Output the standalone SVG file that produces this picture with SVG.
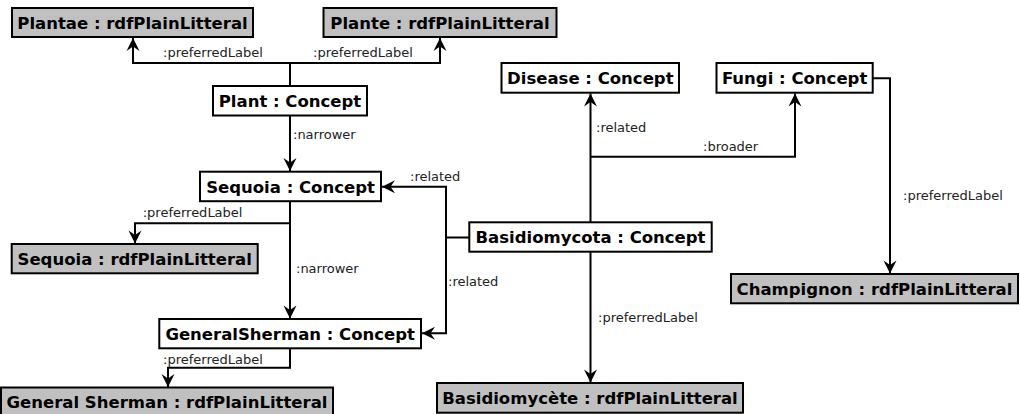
<svg xmlns="http://www.w3.org/2000/svg" width="1020" height="414" viewBox="0 0 1020 414">
<style>
.box{fill:#ffffff;stroke:#000;stroke-width:2}
.lit{fill:#c0c0c0;stroke:#000;stroke-width:2}
.nt{font-family:"DejaVu Sans",Verdana,sans-serif;font-weight:bold;font-size:16.5px;fill:#000;text-anchor:middle}
.lbl{font-family:"DejaVu Sans",Verdana,sans-serif;font-size:13px;fill:#222}
.cn{fill:none;stroke:#000;stroke-width:2}
.arr{marker-end:url(#ah)}
</style>
<defs>
<marker id="ah" markerUnits="userSpaceOnUse" markerWidth="16" markerHeight="16" viewBox="-14 -8 16 16" refX="0" refY="0" orient="auto">
<path d="M0,0 L-13,-6.5 L-8.5,0 L-13,6.5 z" fill="#000"/>
</marker>
</defs>
<rect width="1020" height="414" fill="#fff"/>
<g id="connectors">
<path class="cn arr" d="M290,86 V63 H133 V38"/>
<path class="cn arr" d="M290,63 H440 V38"/>
<path class="cn arr" d="M290,115.5 V171"/>
<path class="cn arr" d="M290,201 V223.3 H135 V243.5"/>
<path class="cn arr" d="M290,223 V318.5"/>
<path class="cn arr" d="M469.3,237.5 H446 V186.7 H382"/>
<path class="cn arr" d="M446,237.5 V333.3 H422"/>
<path class="cn arr" d="M590.5,222.3 V93.5"/>
<path class="cn arr" d="M590.5,156.7 H795 V93.5"/>
<path class="cn arr" d="M590.5,251.7 V382.5"/>
<path class="cn arr" d="M873,78.3 H890 V273.5"/>
<path class="cn arr" d="M290,348.3 V367.7 H168 V387"/>
<text class="lbl" x="163" y="56.5">:preferredLabel</text>
<text class="lbl" x="313" y="56.5">:preferredLabel</text>
<text class="lbl" x="293" y="138.5">:narrower</text>
<text class="lbl" x="142.7" y="216.5">:preferredLabel</text>
<text class="lbl" x="296" y="272.5">:narrower</text>
<text class="lbl" x="410" y="181">:related</text>
<text class="lbl" x="448" y="286">:related</text>
<text class="lbl" x="596" y="131.5">:related</text>
<text class="lbl" x="703" y="151">:broader</text>
<text class="lbl" x="598" y="321.5">:preferredLabel</text>
<text class="lbl" x="903" y="199.5">:preferredLabel</text>
<text class="lbl" x="163" y="363.5">:preferredLabel</text>
</g>
<g id="plantae"><rect class="lit" x="12" y="8" width="241" height="29"/><text class="nt" x="132.5" y="28.5">Plantae : rdfPlainLitteral</text></g>
<g id="plante"><rect class="lit" x="323.5" y="8" width="233" height="29"/><text class="nt" x="440" y="28.5">Plante : rdfPlainLitteral</text></g>
<g id="plant"><rect class="box" x="213" y="86" width="154" height="29.5"/><text class="nt" x="290" y="106.8">Plant : Concept</text></g>
<g id="disease"><rect class="box" x="501.5" y="63" width="177.5" height="29.7"/><text class="nt" x="590.3" y="83.8">Disease : Concept</text></g>
<g id="fungi"><rect class="box" x="716.5" y="63" width="156.2" height="29.7"/><text class="nt" x="794.6" y="83.8">Fungi : Concept</text></g>
<g id="sequoia"><rect class="box" x="200" y="171.7" width="181" height="29.5"/><text class="nt" x="290.5" y="192.5">Sequoia : Concept</text></g>
<g id="basidiomycota"><rect class="box" x="469.3" y="222.3" width="242.4" height="29.4"/><text class="nt" x="590.5" y="243">Basidiomycota : Concept</text></g>
<g id="sequoia-lit"><rect class="lit" x="11.7" y="244" width="246" height="29.3"/><text class="nt" x="134.7" y="264.7">Sequoia : rdfPlainLitteral</text></g>
<g id="champignon"><rect class="lit" x="731" y="274" width="287" height="29.3"/><text class="nt" x="874.5" y="294.7">Champignon : rdfPlainLitteral</text></g>
<g id="generalsherman"><rect class="box" x="159.3" y="319" width="261.7" height="29.3"/><text class="nt" x="290.2" y="339.7">GeneralSherman : Concept</text></g>
<g id="generalsherman-lit"><rect class="lit" x="1" y="387.5" width="332" height="29.5"/><text class="nt" x="167" y="408.3">General Sherman : rdfPlainLitteral</text></g>
<g id="basidiomycete"><rect class="lit" x="437" y="383" width="306" height="29.7"/><text class="nt" x="590" y="403.9">Basidiomycète : rdfPlainLitteral</text></g>
</svg>
